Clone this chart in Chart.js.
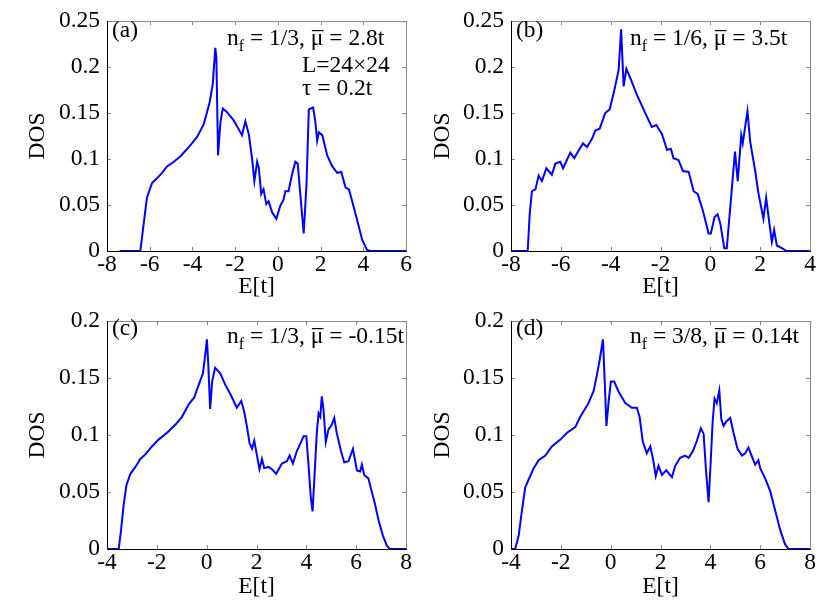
<!DOCTYPE html>
<html lang="en">
<head>
<meta charset="UTF-8" />
<title>DOS panels</title>
<script src="https://cdn.jsdelivr.net/npm/chart.js@4.4.0/dist/chart.umd.min.js"></script>
<style>
    body { margin: 0; background: #fff; }
    #wrap { position: relative; width: 830px; height: 602px; }
    #wrap canvas { position: absolute; }
</style>
</head>
<body>
<div id="wrap">
    <canvas id="chartA" width="415" height="300" style="left:0;top:0"></canvas>
    <canvas id="chartB" width="415" height="300" style="left:415px;top:0"></canvas>
    <canvas id="chartC" width="415" height="302" style="left:0;top:300px"></canvas>
    <canvas id="chartD" width="415" height="302" style="left:415px;top:300px"></canvas>
</div>
<script>
// values: energy E[t] and density of states
const eA = [-7.41, -6.44, -6.28, -6.13, -5.89, -5.66, -5.42, -5.19, -4.87, -4.56, -4.17, -3.78, -3.47, -3.20, -3.05, -2.93,
    -2.88, -2.80, -2.69, -2.58, -2.38, -2.07, -1.75, -1.68, -1.52, -1.36, -1.21, -1.10, -0.97, -0.89, -0.78, -0.67,
    -0.54, -0.43, -0.27, -0.07, 0.11, 0.27, 0.35, 0.50, 0.66, 0.82, 0.93, 1.05, 1.21, 1.34, 1.45, 1.65,
    1.76, 1.84, 1.92, 2.08, 2.31, 2.55, 2.78, 2.97, 3.17, 3.33, 3.48, 3.72, 3.95, 4.18, 4.34, 6.0];
const dosA = [0, 0, 0.030, 0.058, 0.074, 0.079, 0.085, 0.092, 0.097, 0.103, 0.113, 0.124, 0.138, 0.161, 0.181, 0.221,
    0.211, 0.104, 0.140, 0.155, 0.151, 0.142, 0.129, 0.126, 0.141, 0.127, 0.101, 0.076, 0.097, 0.090, 0.062, 0.067,
    0.051, 0.054, 0.042, 0.035, 0.049, 0.056, 0.065, 0.065, 0.083, 0.097, 0.095, 0.062, 0.019, 0.072, 0.154, 0.156,
    0.140, 0.120, 0.129, 0.126, 0.104, 0.092, 0.085, 0.086, 0.069, 0.067, 0.054, 0.033, 0.012, 0.001, 0, 0];

const eB = [-7.95, -7.33, -7.25, -7.16, -7.02, -6.89, -6.76, -6.58, -6.36, -6.22, -6.02, -5.91, -5.62, -5.46, -5.29, -5.11,
    -4.95, -4.75, -4.62, -4.44, -4.22, -4.04, -3.86, -3.68, -3.58, -3.48, -3.37, -3.21, -2.95, -2.68, -2.35, -2.17,
    -1.94, -1.74, -1.58, -1.48, -1.28, -1.10, -0.87, -0.67, -0.51, -0.30, -0.07, 0.02, 0.17, 0.29, 0.40, 0.56,
    0.66, 0.82, 0.99, 1.10, 1.24, 1.30, 1.49, 1.60, 1.80, 1.93, 2.13, 2.24, 2.37, 2.47, 2.56, 2.67,
    2.87, 3.07, 4.0];
const dosB = [0, 0, 0.040, 0.065, 0.067, 0.082, 0.076, 0.090, 0.083, 0.095, 0.097, 0.090, 0.107, 0.101, 0.109, 0.117,
    0.113, 0.122, 0.131, 0.133, 0.150, 0.154, 0.174, 0.197, 0.241, 0.179, 0.198, 0.188, 0.170, 0.154, 0.135, 0.137,
    0.127, 0.110, 0.111, 0.101, 0.099, 0.087, 0.086, 0.065, 0.062, 0.044, 0.019, 0.019, 0.037, 0.040, 0.030, 0.003,
    0.003, 0.054, 0.108, 0.076, 0.126, 0.117, 0.152, 0.119, 0.087, 0.063, 0.035, 0.058, 0.030, 0.010, 0.023, 0.006,
    0.003, 0, 0];

const eC = [-4, -3.53, -3.44, -3.33, -3.22, -3.06, -2.86, -2.66, -2.46, -2.20, -1.93, -1.59, -1.26, -0.99, -0.72, -0.50,
    -0.32, -0.15, -0.06, 0.01, 0.06, 0.14, 0.22, 0.34, 0.55, 0.75, 0.95, 1.21, 1.39, 1.51, 1.62, 1.72,
    1.82, 1.91, 2.02, 2.12, 2.22, 2.31, 2.48, 2.62, 2.79, 3.02, 3.22, 3.33, 3.46, 3.62, 3.75, 3.89,
    4.00, 4.09, 4.18, 4.25, 4.33, 4.42, 4.49, 4.56, 4.62, 4.69, 4.78, 4.89, 5.02, 5.12, 5.22, 5.39,
    5.52, 5.69, 5.87, 6.03, 6.16, 6.23, 6.32, 6.49, 6.63, 6.76, 6.90, 7.07, 7.23, 7.36, 8];
const dosC = [0, 0, 0.016, 0.039, 0.056, 0.066, 0.072, 0.079, 0.083, 0.090, 0.096, 0.102, 0.109, 0.116, 0.127, 0.133,
    0.144, 0.154, 0.170, 0.184, 0.164, 0.123, 0.147, 0.159, 0.154, 0.144, 0.136, 0.124, 0.130, 0.120, 0.107, 0.093,
    0.088, 0.095, 0.082, 0.070, 0.079, 0.071, 0.072, 0.070, 0.066, 0.075, 0.077, 0.082, 0.075, 0.086, 0.092, 0.099,
    0.099, 0.073, 0.045, 0.033, 0.065, 0.102, 0.119, 0.116, 0.134, 0.122, 0.094, 0.105, 0.109, 0.115, 0.102, 0.086,
    0.076, 0.077, 0.088, 0.069, 0.068, 0.074, 0.065, 0.062, 0.050, 0.039, 0.025, 0.012, 0.003, 0, 0];

const eD = [-4, -3.83, -3.69, -3.56, -3.43, -3.29, -3.09, -2.89, -2.62, -2.36, -2.02, -1.75, -1.42, -1.22, -0.89, -0.68,
    -0.55, -0.44, -0.31, -0.24, -0.17, -0.08, 0.01, 0.14, 0.32, 0.59, 0.85, 1.05, 1.16, 1.29, 1.45, 1.59,
    1.70, 1.81, 1.92, 2.06, 2.23, 2.46, 2.59, 2.79, 2.99, 3.13, 3.30, 3.46, 3.62, 3.73, 3.83, 3.93,
    4.02, 4.09, 4.17, 4.26, 4.36, 4.44, 4.53, 4.64, 4.80, 4.93, 5.09, 5.27, 5.40, 5.53, 5.67, 5.80,
    5.93, 6.00, 6.20, 6.40, 6.60, 6.80, 7.00, 7.14, 8];
const dosD = [0, 0, 0.012, 0.034, 0.054, 0.061, 0.071, 0.078, 0.082, 0.090, 0.096, 0.102, 0.107, 0.116, 0.128, 0.139,
    0.153, 0.166, 0.184, 0.148, 0.108, 0.130, 0.147, 0.147, 0.138, 0.128, 0.124, 0.124, 0.116, 0.094, 0.084, 0.090,
    0.079, 0.064, 0.073, 0.065, 0.069, 0.063, 0.073, 0.080, 0.082, 0.080, 0.086, 0.095, 0.106, 0.101, 0.068, 0.041,
    0.079, 0.111, 0.132, 0.128, 0.139, 0.114, 0.108, 0.112, 0.115, 0.102, 0.088, 0.082, 0.084, 0.089, 0.081, 0.074,
    0.078, 0.071, 0.062, 0.051, 0.034, 0.017, 0.004, 0, 0];

// axis ranges per panel
const xRangeA = [-8, 6], yMaxA = 0.25;
const xRangeB = [-8, 4], yMaxB = 0.25;
const xRangeC = [-4, 8], yMaxC = 0.2;
const xRangeD = [-4, 8], yMaxD = 0.2;

const SERIF = "'Liberation Serif', 'DejaVu Serif', serif";
const FS = 23.5;

// frame + inward tick marks, drawn before the curve
const framePlugin = {
    id: "frame",
    beforeDatasetsDraw(chart) {
        const { ctx, chartArea: a, scales } = chart;
        ctx.save();
        ctx.lineWidth = 1;
        ctx.strokeStyle = "#888";
        scales.x.ticks.forEach((t) => {
            const px = Math.round(scales.x.getPixelForValue(t.value)) + 0.5;
            ctx.beginPath();
            ctx.moveTo(px, a.bottom); ctx.lineTo(px, a.bottom - 4);
            ctx.moveTo(px, a.top); ctx.lineTo(px, a.top + 4);
            ctx.stroke();
        });
        scales.y.ticks.forEach((t) => {
            const py = Math.round(scales.y.getPixelForValue(t.value)) + 0.5;
            ctx.beginPath();
            ctx.moveTo(a.left, py); ctx.lineTo(a.left + 4, py);
            ctx.moveTo(a.right, py); ctx.lineTo(a.right - 4, py);
            ctx.stroke();
        });
        ctx.beginPath();
        ctx.moveTo(a.left, a.top + 0.5); ctx.lineTo(a.right + 0.5, a.top + 0.5); ctx.lineTo(a.right + 0.5, a.bottom);
        ctx.stroke();
        ctx.strokeStyle = "#000";
        ctx.beginPath();
        ctx.moveTo(a.left + 0.5, a.top); ctx.lineTo(a.left + 0.5, a.bottom + 0.5); ctx.lineTo(a.right + 1, a.bottom + 0.5);
        ctx.stroke();
        ctx.restore();
    },
};

// panel letter and parameter text: n_f = ..., mu-bar = ...
const notePlugin = {
    id: "note",
    afterDraw(chart, args, opts) {
        const ctx = chart.ctx;
        ctx.save();
        ctx.fillStyle = "#000";
        ctx.textBaseline = "alphabetic";
        ctx.textAlign = "left";
        const big = FS + "px " + SERIF;
        const small = Math.round(FS * 0.7) + "px " + SERIF;
        ctx.font = big;
        ctx.fillText(opts.tag, opts.tagX, opts.tagY);

        let x = opts.fx, y = opts.fy;
        ctx.font = big;
        ctx.fillText("n", x, y); x += ctx.measureText("n").width;
        ctx.font = small;
        ctx.fillText("f", x, y + 6); x += ctx.measureText("f").width;
        ctx.font = big;
        const mid = " = " + opts.nf + ", ";
        ctx.fillText(mid, x, y); x += ctx.measureText(mid).width;
        const mw = ctx.measureText("\u03bc").width;
        ctx.fillText("\u03bc", x, y);
        ctx.fillRect(x + 1, y - 15, mw - 1, 1.2);
        x += mw;
        ctx.fillText(" = " + opts.mu, x, y);

        (opts.extra || []).forEach((line) => ctx.fillText(line.text, line.x, line.y));
        ctx.restore();
    },
};

function makeChart(id, xs, ys, xRange, yMax, yStep, geo, note) {
    const pts = xs.map((v, i) => ({ x: v, y: ys[i] }));
    return new Chart(document.getElementById(id), {
        type: "line",
        data: {
            datasets: [{
                data: pts,
                borderColor: "#0000ff",
                borderWidth: 2,
                pointRadius: 0,
                tension: 0,
                fill: false,
            }],
        },
        options: {
            responsive: false,
            animation: false,
            events: [],
            layout: { padding: { left: 0, top: geo.top, right: geo.right, bottom: 0 } },
            plugins: { legend: { display: false }, tooltip: { enabled: false }, note: note },
            scales: {
                x: {
                    type: "linear",
                    min: xRange[0],
                    max: xRange[1],
                    grid: { display: false, drawTicks: false },
                    border: { display: false },
                    ticks: {
                        stepSize: 2,
                        color: "#000",
                        padding: 0,
                        maxRotation: 0,
                        font: { family: SERIF, size: FS },
                        callback: (v) => String(v),
                    },
                    title: { display: true, text: "E[t]", color: "#000", font: { family: SERIF, size: FS }, padding: { top: 0, bottom: geo.xtPad } },
                    afterFit: (s) => { s.height = geo.xh; },
                },
                y: {
                    min: 0,
                    max: yMax,
                    grid: { display: false, drawTicks: false },
                    border: { display: false },
                    ticks: {
                        stepSize: yStep,
                        color: "#000",
                        padding: 7,
                        font: { family: SERIF, size: FS },
                        callback: (v) => String(+v.toFixed(2)),
                    },
                    title: { display: true, text: "DOS", color: "#000", font: { family: SERIF, size: FS }, padding: { top: geo.ytPad, bottom: 0 } },
                    afterFit: (s) => { s.width = geo.yw; },
                },
            },
        },
        plugins: [framePlugin, notePlugin],
    });
}

window.addEventListener("load", () => {
    makeChart("chartA", eA, dosA, xRangeA, yMaxA, 0.05,
        { top: 17, right: 9, yw: 107, xh: 49, ytPad: 24, xtPad: -1 },
        { tag: "(a)", tagX: 112, tagY: 37, fx: 227, fy: 45, nf: "1/3", mu: "2.8t",
          extra: [{ text: "L=24\u00d724", x: 302, y: 72 }, { text: "\u03c4 = 0.2t", x: 302, y: 95 }] });
    makeChart("chartB", eB, dosB, xRangeB, yMaxB, 0.05,
        { top: 17, right: 20, yw: 96, xh: 49, ytPad: 14, xtPad: -1 },
        { tag: "(b)", tagX: 101, tagY: 37, fx: 215, fy: 45, nf: "1/6", mu: "3.5t" });
    makeChart("chartC", eC, dosC, xRangeC, yMaxC, 0.05,
        { top: 15, right: 9, yw: 107, xh: 53, ytPad: 24, xtPad: 1 },
        { tag: "(c)", tagX: 112, tagY: 35, fx: 227, fy: 43, nf: "1/3", mu: "-0.15t" });
    makeChart("chartD", eD, dosD, xRangeD, yMaxD, 0.05,
        { top: 15, right: 20, yw: 96, xh: 53, ytPad: 14, xtPad: 1 },
        { tag: "(d)", tagX: 101, tagY: 35, fx: 215, fy: 43, nf: "3/8", mu: "0.14t" });
});
</script>
</body>
</html>
